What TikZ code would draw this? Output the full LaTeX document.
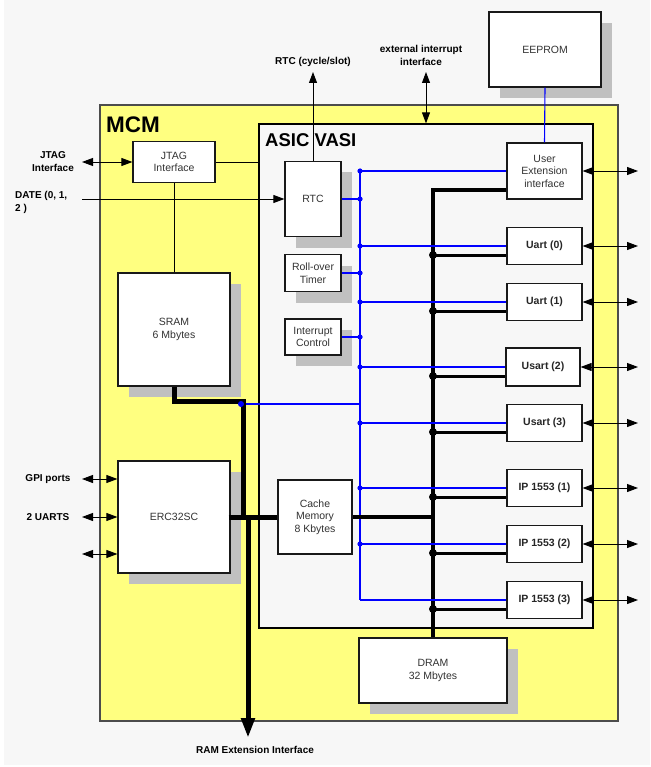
\documentclass[tikz,border=0pt]{standalone}
\usepackage{fontspec}
\setmainfont{Liberation Sans}
\usetikzlibrary{arrows.meta,shadows}
\definecolor{bgc}{HTML}{F7F7F7}
\definecolor{mcmc}{HTML}{FFFF80}
\definecolor{shad}{HTML}{C0C0C0}
\definecolor{busb}{HTML}{0000FF}
\definecolor{txt}{HTML}{333333}
\tikzset{
  blk/.style={draw=black!90, line width=1.2pt, fill=white, inner sep=1pt, align=center,
    font=\fontsize{10.5}{12.5}\selectfont, text=txt},
  shd/.style={blk, drop shadow={shadow xshift=11pt, shadow yshift=-11pt, fill=shad, opacity=1}},
  bblk/.style={blk, font=\bfseries\fontsize{10.5}{12.5}\selectfont, text=black!85},
  lbl/.style={font=\bfseries\fontsize{10}{12.5}\selectfont, align=center, inner sep=0pt},
  wire/.style={draw=black, line width=0.9pt},
  tipa/.style={-{Triangle[length=11pt,width=8pt]}},
  tipb/.style={{Triangle[length=11pt,width=8pt]}-{Triangle[length=11pt,width=8pt]}},
  bl/.style={draw=busb, line width=1.1pt},
  kb/.style={draw=black, line width=3.2pt},
  fat/.style={draw=black, line width=5pt, line join=miter},
}
\begin{document}
\begin{tikzpicture}[x=1pt,y=-1pt]
\useasboundingbox (0,0) rectangle (650,767);
\fill[white] (0,0) rectangle (650,767);
\fill[bgc] (4,0) rectangle (650,765);

% containers
\node[draw=black!70, line width=1.2pt, fill=mcmc, minimum width=518pt, minimum height=616pt, inner sep=0pt] (mcm) at (359,413) {};
\node[draw=black, line width=1.2pt, fill=bgc, minimum width=334pt, minimum height=504pt, inner sep=0pt] (asic) at (426,376) {};
\node[anchor=base west, inner sep=0pt, font=\bfseries\fontsize{22.5}{24}\selectfont] (mcmlbl) at (106,133) {MCM};
\node[anchor=base west, inner sep=0pt, font=\bfseries\fontsize{18.5}{20}\selectfont] (asiclbl) at (265,147) {ASIC VASI};

% boxes
\node[shd, minimum width=112pt, minimum height=75pt] (eeprom) at (545,49.5) {EEPROM};
\node[blk, minimum width=75pt, minimum height=56pt] (userext) at (544.5,171) {User\\Extension\\interface};
\node[shd, minimum width=56pt, minimum height=75pt] (rtc) at (313,199) {RTC};
\node[shd, minimum width=56pt, minimum height=37pt] (roll) at (313,273) {Roll-over\\Timer};
\node[shd, minimum width=56pt, minimum height=36pt] (intc) at (313,337) {Interrupt\\Control};
\node[blk, minimum width=82pt, minimum height=41pt] (jtag) at (174,162) {JTAG\\Interface};
\node[shd, minimum width=112pt, minimum height=113pt] (sram) at (174,329.5) {SRAM\\6 Mbytes};
\node[shd, minimum width=112pt, minimum height=112pt] (erc) at (174,517) {ERC32SC};
\node[blk, minimum width=74pt, minimum height=74pt] (cache) at (315,517) {Cache\\Memory\\8 Kbytes};
\node[shd, minimum width=148pt, minimum height=65pt] (dram) at (433,670.5) {DRAM\\32 Mbytes};
\node[bblk, minimum width=75pt, minimum height=37pt] (uart0) at (544.5,246) {Uart (0)};
\node[bblk, minimum width=75pt, minimum height=37pt] (uart1) at (544.5,302) {Uart (1)};
\node[bblk, minimum width=74pt, minimum height=38pt] (usart2) at (543,367) {Usart (2)};
\node[bblk, minimum width=75pt, minimum height=37pt] (usart3) at (544.5,423) {Usart (3)};
\node[bblk, minimum width=75pt, minimum height=37pt] (ip1) at (544.5,488) {IP 1553 (1)};
\node[bblk, minimum width=75pt, minimum height=37pt] (ip2) at (544.5,544) {IP 1553 (2)};
\node[bblk, minimum width=75pt, minimum height=37pt] (ip3) at (544.5,600) {IP 1553 (3)};

% external labels
\node[lbl] (rtclbl) at (313,62) {RTC (cycle/slot)};
\node[lbl] (extlbl) at (421,55.5) {external interrupt\\interface};
\node[lbl] (jtaglbl) at (53,161.5) {JTAG\\Interface};
\node[lbl, anchor=west, align=left] (datelbl) at (15,202.5) {DATE (0, 1,\\2 )};
\node[lbl] (gpilbl) at (48,479) {GPI ports};
\node[lbl] (uartslbl) at (48,517) {2 UARTS};
\node[lbl] (ramlbl) at (255,750) {RAM Extension Interface};

% helper coordinates
\coordinate (bx) at (360,0);
\coordinate (kx) at (433,0);
\coordinate (rx) at (638,0);
\coordinate (lx) at (82,0);
\coordinate (rtctop) at (313,72);
\coordinate (exttop) at (426,72);
\coordinate (sj) at (241,404);
\coordinate (sb) at (243,401);
\coordinate (ramx) at (248,738);
\path ([yshift=-37pt]erc.west) coordinate (p3);

% blue bus
\draw[bl] (eeprom.south) -- (userext.north);
\draw[bl] (bx |- userext.west) -- (bx |- ip3.west);
\draw[bl] (bx |- userext.west) -- (userext.west);
\fill[busb] (bx |- userext.west) circle[radius=2.6pt];
\foreach \n in {rtc,roll,intc}{
  \draw[bl] (\n.east) -- (\n.east -| bx);
  \fill[busb] (\n.east -| bx) circle[radius=2.6pt];
}
\draw[bl] (sj) -- (sj -| bx);

% black bus
\draw[kb, line join=miter] ([yshift=-19pt]userext.west) -| (dram.north);
\draw[kb] (cache.east) -- (cache.east -| kx);
\foreach \n in {uart0,uart1,usart2,usart3,ip1,ip2,ip3}{
  \draw[bl] (bx |- \n.west) -- (\n.west);
  \path ([yshift=-9pt]\n.west) coordinate (tmp);
  \draw[kb, line width=3pt] (kx |- tmp) -- (tmp);
  \fill (kx |- tmp) circle[radius=4pt];
  \draw[wire, tipb] (\n.east) -- (\n.east -| rx);
}
\foreach \n in {uart0,uart1,usart2,usart3,ip1,ip2}{
  \fill[busb] (bx |- \n.west) circle[radius=2.6pt];
}
\draw[wire, tipb] (userext.east) -- (userext.east -| rx);

% SRAM / ERC32 buses
\draw[fat] (sram.south) |- (sb) -- (sb |- erc.east);
\draw[fat] ([xshift=-2pt]erc.east) -- (cache.west);
\draw[fat, -{Triangle[length=20pt,width=13pt]}] (ramx |- erc.east) -- (ramx);
\fill[busb] (sj) circle[radius=3pt];

% JTAG, DATE, RTC, ext int
\draw[wire] (jtag.east) -- (jtag.east -| asic.west);
\draw[wire] (jtag.south) -- (sram.north);
\draw[wire, tipb] (lx |- jtag.west) -- (jtag.west);
\draw[wire, tipa] (lx |- rtc.west) -- (rtc.west);
\draw[wire, tipa] (rtc.north) -- (rtctop);
\draw[wire, tipb] (exttop) -- (asic.north);

% ERC32 left ports
\draw[wire, tipb] (lx |- gpilbl) -- (erc.west |- gpilbl);
\draw[wire, tipb] (lx |- erc.west) -- (erc.west);
\draw[wire, tipb] (lx |- p3) -- (p3);
\end{tikzpicture}
\end{document}
